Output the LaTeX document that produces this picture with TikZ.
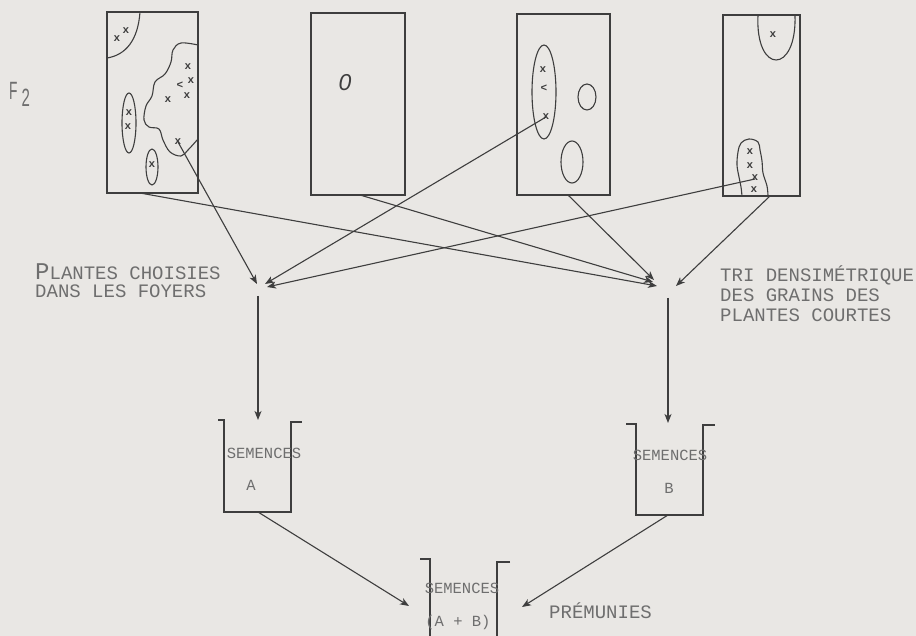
\documentclass[tikz,border=0pt]{standalone}
\usepackage{fontspec}
\newfontfamily\tw{Liberation Mono}
\newfontfamily\sa{Liberation Sans}
\usetikzlibrary{arrows.meta}
\definecolor{bg}{HTML}{E9E7E4}
\definecolor{ink}{HTML}{3E3E3E}
\definecolor{txt}{HTML}{6E6E6E}
\begin{document}
\begin{tikzpicture}[x=1pt,y=-1pt,
  field/.style={draw=ink, line width=2pt, inner sep=0pt},
  patch/.style={draw=ink, line width=1.1pt},
  flow/.style={draw=ink, line width=1.1pt, -{Stealth[length=9pt,width=7pt,inset=2.5pt]}},
  bucket/.style={draw=ink, line width=2.2pt},
  lab/.style={text=txt, inner sep=0pt, anchor=base west, font=\tw\fontsize{19}{20}\selectfont},
  seed/.style={text=txt, inner sep=0pt, anchor=base, font=\tw\fontsize{15.5}{16}\selectfont},
  mk/.style={text=ink, inner sep=0pt, font=\tw\bfseries\fontsize{11}{11}\selectfont}]
\fill[bg] (0,0) rectangle (916,636);
\useasboundingbox (0,0) rectangle (916,636);

% fields
\node[field, minimum width=91pt, minimum height=181pt] (r1) at (152.5,102.5) {};
\node[field, minimum width=94pt, minimum height=182pt] (r2) at (358,104) {};
\node[field, minimum width=93pt, minimum height=181pt] (r3) at (563.5,104.5) {};
\node[field, minimum width=77pt, minimum height=181pt] (r4) at (761.5,105.5) {};

\node[text=txt, inner sep=0pt, anchor=base west, font=\sa\fontsize{25}{25}\selectfont] (f2) at (9,100)
  {\scalebox{0.55}[1]{F}\hspace{4pt}\raisebox{-7pt}{\scalebox{0.6}[1]{2}}};

% field 1 patches
\draw[patch] (140,12) .. controls (138,40) and (126,55) .. (107,58);
\node[mk] (x1a) at (126,31) {x};
\node[mk] (x1b) at (117,39) {x};
\draw[patch] plot[smooth, tension=0.6] coordinates {(198,45) (181,43) (173,50) (171,62) (165,74) (155,82) (152,96) (146,106) (144,120) (149,127) (159,129) (163,140) (170,152) (181,156) (188,150) (198,139)};
\node[mk] (x1c) at (188,67) {x};
\node[mk] (x1d) at (180,85) {<};
\node[mk] (x1e) at (191,81) {x};
\node[mk] (x1f) at (187,96) {x};
\node[mk] (x1g) at (168,100) {x};
\node[mk] (x1h) at (178,142) {x};
\draw[patch] (129,123) ellipse [x radius=7pt, y radius=30pt];
\node[mk] (x1i) at (129,113) {x};
\node[mk] (x1j) at (128,127) {x};
\draw[patch] (152,167) ellipse [x radius=6pt, y radius=18pt];
\node[mk] (x1k) at (152,165) {x};

% field 2
\node[text=ink, inner sep=0pt, font=\sa\itshape\fontsize{23}{23}\selectfont] (o2) at (345,83) {0};

% field 3
\draw[patch] (544,92) ellipse [x radius=12pt, y radius=47pt];
\node[mk] (x3a) at (543,70) {x};
\node[mk] (x3b) at (544,88) {<};
\node[mk] (x3c) at (546,117) {x};
\draw[patch] (587,97) ellipse [x radius=9pt, y radius=13pt];
\draw[patch] (572,162) ellipse [x radius=11pt, y radius=21pt];

% field 4
\draw[patch] (758,15) .. controls (755,75) and (797,75) .. (795,15);
\node[mk] (x4a) at (773,35) {x};
\draw[patch] plot[smooth, tension=0.6] coordinates {(742,196) (741,187) (739,177) (737,165) (738,152) (741,143) (749,139) (758,142) (760,150) (762,161) (763,173) (767,186) (768,196)};
\node[mk] (x4b) at (750,152) {x};
\node[mk] (x4c) at (750,166) {x};
\node[mk] (x4d) at (755,178) {x};
\node[mk] (x4e) at (754,190) {x};

% connector points
\coordinate (s1) at (178,142);
\coordinate (b1) at (140,193);
\coordinate (b2) at (360,195);
\coordinate (b3) at (568,195);
\coordinate (s3) at (546,117);
\coordinate (s4) at (755,179);
\coordinate (b4) at (770,196);
\coordinate (tL1) at (257,284);
\coordinate (tL2) at (265,284);
\coordinate (tL3) at (267,287);
\coordinate (tR1) at (653,282);
\coordinate (tR2) at (657,286);
\coordinate (tR3) at (654,280);
\coordinate (tR4) at (676,286);
\coordinate (vL) at (258,296);
\coordinate (vR) at (668,298);

\draw[flow] (s1) -- (tL1);
\draw[flow] (s3) -- (tL2);
\draw[flow] (s4) -- (tL3);
\draw[flow] (b1) -- (tR2);
\draw[flow] (b2) -- (tR1);
\draw[flow] (b3) -- (tR3);
\draw[flow] (b4) -- (tR4);

% labels
\node[lab] (pl1) at (35,280) {{\fontsize{24}{24}\selectfont P}LANTES CHOISIES};
\node[lab] (pl2) at (35,298) {DANS LES FOYERS};
\node[lab] (tr1) at (720,282) {TRI DENSIMÉTRIQUE};
\node[lab] (tr2) at (720,302) {DES GRAINS DES};
\node[lab] (tr3) at (720,322) {PLANTES COURTES};

% buckets
\draw[bucket] (218,420) -- (224,420) -- (224,512) -- (291,512) -- (291,422) -- (302,422);
\coordinate (aTop) at (258,420);
\coordinate (aBot) at (258,512);
\node[seed] (sa) at (264,458) {SEMENCES};
\node[seed] (la) at (251,490) {A};

\draw[bucket] (626,424) -- (636,424) -- (636,515) -- (703,515) -- (703,425) -- (715,425);
\coordinate (bTop) at (668,423);
\coordinate (bBot) at (668,515);
\node[seed] (sb) at (670,460) {SEMENCES};
\node[seed] (lb) at (669,493) {B};

\draw[bucket] (420,559) -- (430,559) -- (430,640);
\draw[bucket] (510,562) -- (497,562) -- (497,640);
\coordinate (cL) at (409,606);
\coordinate (cR) at (522,607);
\node[seed] (sc) at (462,593) {SEMENCES};
\node[seed] (lc) at (458,626) {(A + B)};
\node[lab] (pm) at (549,618) {PRÉMUNIES};

\draw[flow] (vL) -- (aTop);
\draw[flow] (vR) -- (bTop);
\draw[flow] (aBot) -- (cL);
\draw[flow] (bBot) -- (cR);
\end{tikzpicture}
\end{document}
